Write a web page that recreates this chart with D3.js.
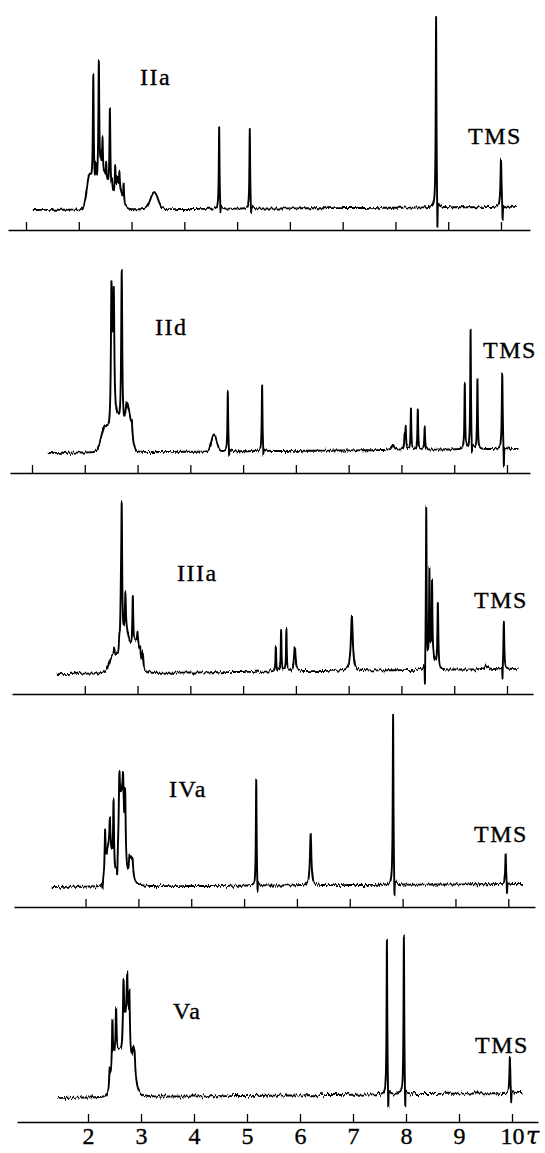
<!DOCTYPE html>
<html>
<head>
<meta charset="utf-8">
<script src="https://cdn.jsdelivr.net/npm/d3@7"></script>
<style>
  html, body { margin: 0; padding: 0; background: #fff; }
  svg { display: block; }
  .lbl { font-family: "Liberation Serif", "DejaVu Serif", serif; fill: #000; stroke: #000; stroke-width: 0.35px; }
</style>
</head>
<body>
<svg id="chart" width="545" height="1153"></svg>
<script>
// compounds, top to bottom
const compounds = ["IIa", "IId", "IIIa", "IVa", "Va"];
const refLabel = "TMS";
const axisUnit = "τ";

// peaks: [tau, height above baseline, width]
// wide entries (>= 0.05) are the humps / multiplet envelopes
const peaksIIa = [
  [2.2, 30, 0.05], [2.45, 35, 0.11], [2.75, 22, 0.07],
  [2.275, 113, 0.01], [2.32, 20, 0.008], [2.38, 118, 0.01], [2.42, 15, 0.008],
  [2.45, 33, 0.008], [2.52, 15, 0.008], [2.59, 82, 0.01], [2.63, 10, 0.008],
  [2.69, 24, 0.008], [2.73, 8, 0.008], [2.77, 15, 0.008], [2.85, 18, 0.008],
  [3.43, 17, 0.07],
  [4.66, 82, 0.008], [4.685, -11, 0.005],
  [5.24, 80, 0.008], [5.265, -11, 0.005],
  [8.77, 192, 0.008], [8.795, -37, 0.005],
  [10.0, 48, 0.012], [10.03, -19, 0.006]
];
const peaksIId = [
  [2.38, 24, 0.07], [2.6, 32, 0.08], [2.82, 40, 0.06],
  [2.505, 130, 0.012], [2.525, 60, 0.01], [2.55, 120, 0.012], [2.70, 160, 0.012],
  [2.79, 10, 0.015], [2.89, 10, 0.012],
  [4.45, 17, 0.05],
  [4.71, 60, 0.008], [4.735, -9, 0.005],
  [5.36, 67, 0.008], [5.385, -9, 0.005],
  [7.84, 5, 0.03],
  [8.06, 14, 0.008], [8.08, 22, 0.008], [8.18, 40, 0.008], [8.31, 41, 0.008], [8.44, 23, 0.008],
  [9.20, 66, 0.008], [9.31, 120, 0.008], [9.335, -14, 0.005], [9.44, 70, 0.008],
  [9.91, 76, 0.01], [9.94, -24, 0.006]
];
const peaksIIIa = [
  [2.55, 18, 0.08], [2.78, 40, 0.07], [2.98, 30, 0.07],
  [2.56, 6, 0.01], [2.655, 12, 0.01], [2.685, 40, 0.012], [2.70, 130, 0.01],
  [2.77, 37, 0.01], [2.91, 51, 0.01], [3.0, 11, 0.01], [3.05, 6, 0.01], [3.10, 14, 0.01],
  [5.62, 25, 0.008], [5.72, 41, 0.008], [5.82, 42, 0.008], [5.98, 24, 0.018],
  [7.06, 54, 0.022],
  [8.58, 12, 0.05],
  [8.445, -30, 0.005], [8.47, 160, 0.008], [8.53, 90, 0.008], [8.58, 74, 0.008], [8.69, 66, 0.01],
  [9.61, 4, 0.03],
  [9.915, -16, 0.005], [9.94, 48, 0.01]
];
const peaksIVa = [
  [2.45, 40, 0.06], [2.68, 85, 0.05], [2.86, 28, 0.04],
  [2.32, -8, 0.008], [2.37, 40, 0.01], [2.46, 27, 0.01], [2.53, 68, 0.01], [2.60, -20, 0.008],
  [2.64, 50, 0.012], [2.71, 36, 0.012], [2.75, 60, 0.01], [2.83, 11, 0.01], [2.89, 10, 0.01],
  [5.23, 106, 0.008], [5.255, -16, 0.005],
  [6.26, 52, 0.016],
  [7.82, 171, 0.008], [7.845, -26, 0.005],
  [9.95, 30, 0.01], [9.975, -14, 0.005]
];
const peaksVa = [
  [2.52, 40, 0.07], [2.6, 15, 0.04], [2.72, 70, 0.06], [2.86, 42, 0.04],
  [2.41, 15, 0.01], [2.46, 47, 0.01], [2.53, 44, 0.01], [2.67, 57, 0.012],
  [2.74, 47, 0.012], [2.78, 51, 0.012], [2.88, 8, 0.01],
  [7.64, 156, 0.008], [7.665, -28, 0.005],
  [7.96, 160, 0.008], [7.985, -28, 0.005],
  [9.96, 35, 0.01], [9.985, -14, 0.005]
];
const allPeaks = [peaksIIa, peaksIId, peaksIIIa, peaksIVa, peaksVa];

// recorded sweep of each trace (tau) and baseline drift (start, end)
const spectrumStart = [1.13, 1.30, 1.47, 1.36, 1.42];
const spectrumEnd = [10.30, 10.22, 10.22, 10.28, 10.20];
const baselineDrift = [[0, 3], [0, 4], [0, 5], [0, 3], [0, 5]];

// tick marks per axis, labels only on the bottom one
const tickValues = [
  [1, 2, 3, 4, 5, 6, 7, 8, 9, 10],
  [1, 2, 3, 4, 5, 6, 7, 8, 9, 10],
  [2, 3, 4, 5, 6, 7, 8, 9, 10],
  [2, 3, 4, 5, 6, 7, 8, 9, 10],
  [2, 3, 4, 5, 6, 7, 8, 9, 10]
];
const tickLabels = ["2", "3", "4", "5", "6", "7", "8", "9", "10"];

// page layout of each strip (px)
const layout = [
  { axisY: 230, base: 20, x1: 26, x10: 501, line: [8, 530], label: [140, 85], tms: [468, 144], noise: 4.5 },
  { axisY: 473, base: 20, x1: 32, x10: 507, line: [10, 530], label: [155, 335], tms: [483, 358], noise: 5.5 },
  { axisY: 694, base: 20, x1: 32, x10: 507, line: [12, 533], label: [177, 581], tms: [474, 608], noise: 6 },
  { axisY: 907, base: 20, x1: 32.7, x10: 508.3, line: [14, 535], label: [169, 797], tms: [474, 842], noise: 6 },
  { axisY: 1122, base: 24, x1: 35, x10: 512, line: [17, 538], label: [173, 1019], tms: [475, 1053], noise: 7.5 }
];

// line shape: narrow lines lorentzian, broad humps gaussian
function lineShape(t, p) {
  const d = (t - p[0]) / p[2];
  return p[2] >= 0.05 ? p[1] * Math.exp(-0.5 * d * d) : p[1] / (1 + d * d);
}

const svg = d3.select("#chart");
const defs = svg.append("defs");

compounds.forEach((name, i) => {
  const L = layout[i];
  const peaks = allPeaks[i];

  // roughen the pen trace (vertical jitter only)
  const f = defs.append("filter")
    .attr("id", `noise${i}`)
    .attr("x", "-5%").attr("y", "-20%")
    .attr("width", "110%").attr("height", "140%")
    .attr("color-interpolation-filters", "sRGB");
  f.append("feTurbulence")
    .attr("type", "fractalNoise")
    .attr("baseFrequency", "0.6 0.06")
    .attr("numOctaves", 2)
    .attr("seed", i + 3)
    .attr("result", "turb");
  f.append("feColorMatrix")
    .attr("in", "turb")
    .attr("type", "matrix")
    .attr("values", "0 0 0 0 0.5  0 1 0 0 0  0 0 1 0 0  0 0 0 0 1")
    .attr("result", "disp");
  f.append("feDisplacementMap")
    .attr("in", "SourceGraphic")
    .attr("in2", "disp")
    .attr("scale", L.noise)
    .attr("xChannelSelector", "R")
    .attr("yChannelSelector", "G");

  const x = d3.scaleLinear().domain([1, 10]).range([L.x1, L.x10]);
  const baseY = L.axisY - L.base;
  const y = d3.scaleLinear().domain([0, 200]).range([baseY, baseY - 200]);

  // axis line runs a little past the ticks on both sides
  const xa = x.copy()
    .domain([x.invert(L.line[0]), x.invert(L.line[1])])
    .range(L.line);
  const axis = d3.axisBottom(xa)
    .tickValues(tickValues[i])
    .tickSizeInner(-8)
    .tickSizeOuter(0)
    .tickPadding(5)
    .tickFormat(i === compounds.length - 1 ? (d => tickLabels[tickValues[i].indexOf(d)]) : () => "");

  const gAxis = svg.append("g")
    .attr("transform", `translate(0,${L.axisY})`)
    .call(axis);
  gAxis.select(".domain").attr("stroke", "#000").attr("stroke-width", 1.6);
  gAxis.selectAll(".tick line").attr("stroke", "#000").attr("stroke-width", 1.3);
  gAxis.selectAll(".tick text")
    .attr("class", "lbl")
    .style("font-size", "24px")
    .attr("fill", "#000");

  if (i === compounds.length - 1) {
    svg.append("text")
      .attr("class", "lbl")
      .attr("x", x(10) + 14)
      .attr("y", L.axisY + 22)
      .style("font-family", "'DejaVu Serif', 'Liberation Serif', serif")
      .style("font-size", "24px")
      .style("font-style", "italic")
      .text(axisUnit);
  }

  // build the trace from the peak list
  const t0 = spectrumStart[i], t1 = spectrumEnd[i];
  const drift = baselineDrift[i];
  const pts = d3.range(t0, t1, 0.0025).map(t => {
    let v = drift[0] + (drift[1] - drift[0]) * (t - t0) / (t1 - t0);
    peaks.forEach(p => { v += lineShape(t, p); });
    return [t, v];
  });

  svg.append("path")
    .datum(pts)
    .attr("d", d3.line().x(d => x(d[0])).y(d => y(d[1])))
    .attr("fill", "none")
    .attr("stroke", "#000")
    .attr("stroke-width", 1.9)
    .attr("stroke-linejoin", "round")
    .attr("filter", `url(#noise${i})`);

  svg.append("text")
    .attr("class", "lbl")
    .attr("x", L.label[0])
    .attr("y", L.label[1])
    .style("font-size", "24px")
    .style("letter-spacing", "1.5px")
    .text(name);

  svg.append("text")
    .attr("class", "lbl")
    .attr("x", L.tms[0])
    .attr("y", L.tms[1])
    .style("font-size", "24px")
    .style("letter-spacing", "1.5px")
    .text(refLabel);
});
</script>
</body>
</html>
